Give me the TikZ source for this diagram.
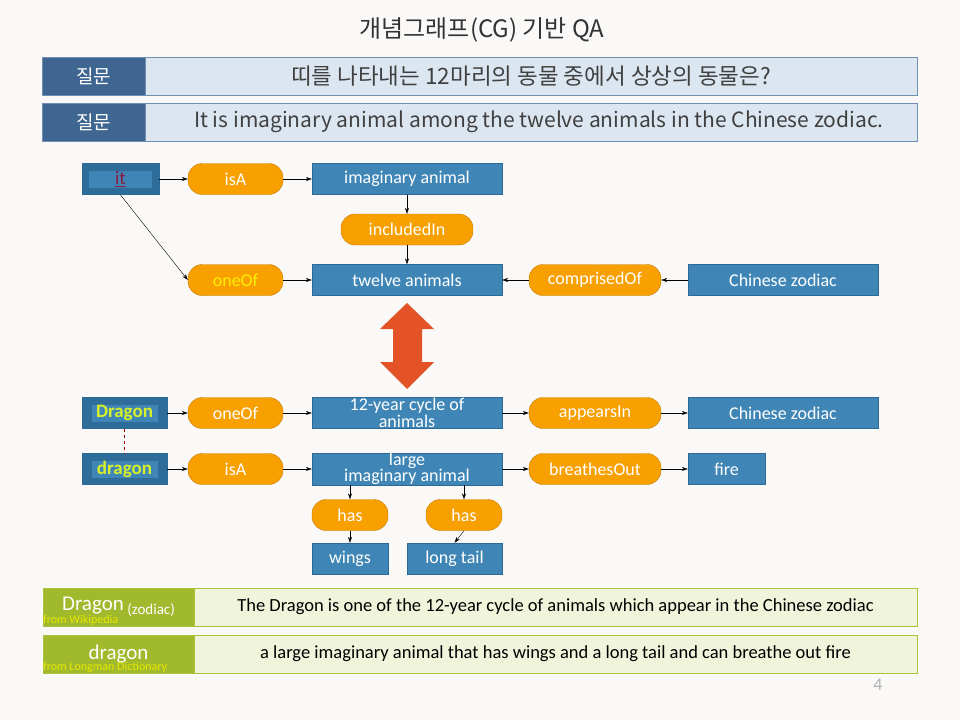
\documentclass[tikz,border=0pt]{standalone}
\usepackage{fontspec}
\setmainfont{Carlito}
\newfontfamily\krfont{Noto Sans CJK KR}
\usetikzlibrary{arrows.meta}
\definecolor{bg}{HTML}{FAF9F7}
\definecolor{cgblue}{HTML}{3F86B6}
\definecolor{cgline}{HTML}{2C6A96}
\definecolor{cgdark}{HTML}{2E6D99}
\definecolor{relfill}{HTML}{F8A000}
\definecolor{relline}{HTML}{C27C05}
\definecolor{qdark}{HTML}{3E6690}
\definecolor{qlight}{HTML}{DCE6F0}
\definecolor{qline}{HTML}{6F8FB3}
\definecolor{defdark}{HTML}{A1B92D}
\definecolor{deflight}{HTML}{F0F4DA}
\definecolor{defline}{HTML}{A8C33C}
\definecolor{bigarrow}{HTML}{E35327}
\definecolor{itred}{HTML}{8E1B3F}
\definecolor{dragontext}{HTML}{D8F02A}
\definecolor{srctext}{HTML}{E8E800}
\definecolor{oneofyellow}{HTML}{FFEE00}
\tikzstyle{concept} = [draw=cgline, fill=cgblue, rectangle, text=white,
                       minimum height=31pt, inner sep=0pt,
                       font=\fontsize{18}{16.5}\selectfont]
\tikzstyle{relation} = [draw=relline, fill=relfill, rectangle, rounded corners=14pt,
                        text=white, minimum height=31pt, inner sep=0pt,
                        font=\fontsize{18}{16}\selectfont]
\tikzstyle{entity} = [draw=cgline, fill=cgdark, rectangle, thick,
                      minimum height=31pt, inner sep=0pt]
\tikzstyle{entitytext} = [fill=cgblue, rectangle, inner sep=0pt,
                          minimum height=17pt, font=\fontsize{19}{19}\selectfont]
\tikzstyle{link} = [-{Stealth[length=6pt,width=4pt]}, thin]
\tikzstyle{qlabel} = [draw=qline, fill=qdark, rectangle, text=white, thick,
                      minimum width=103pt, minimum height=38pt, inner sep=0pt,
                      font=\krfont\fontsize{19}{19}\selectfont]
\tikzstyle{qbar} = [qlabel, fill=qlight, text=black!75, minimum width=772pt]
\tikzstyle{deflabel} = [draw=defline, fill=defdark, rectangle, text=white, thick,
                        minimum width=151pt, minimum height=38pt, inner sep=0pt,
                        font=\fontsize{21}{21}\selectfont]
\tikzstyle{defbar} = [deflabel, fill=deflight, text=black, minimum width=723pt,
                      font=\fontsize{18.5}{18}\selectfont]
\tikzstyle{source} = [text=srctext, inner sep=0pt, font=\fontsize{12}{12}\selectfont]
\begin{document}
\begin{tikzpicture}[x=1pt, y=-1pt]%
  \useasboundingbox (0,0) rectangle (960,720);
  \fill[bg] (0,0) rectangle (960,720);
  \node[font=\krfont\fontsize{24}{24}\selectfont, text=black!80] (title) at (482,30)
    {개념그래프(CG) 기반 QA};
  % questions
  \node[qbar, font=\krfont\fontsize{22.5}{22}\selectfont] (q1) at (531,76)
    {띠를 나타내는 12마리의 동물 중에서 상상의 동물은?};
  \node[qlabel] (q1l) at (93.5,76) {질문};
  \node[qbar, font=\krfont\fontsize{21}{21}\selectfont] (q2) at (531,122)
    {\hspace*{16pt}It is imaginary animal among the twelve animals in the Chinese zodiac.};
  \node[qlabel] (q2l) at (93.5,122) {질문};
  % graph of the question
  \node[entity, minimum width=77pt] (it) at (120.5,179) {};
  \node[entitytext, minimum width=63pt, text=itred] (itin) at (it) {\underline{it}};
  \node[relation, minimum width=95pt] (isa) at (235.5,179) {isA};
  \node[concept, minimum width=190pt] (imag) at (407,179) {imaginary animal};
  \node[relation, minimum width=132pt] (incl) at (407,229.5) {includedIn};
  \node[relation, minimum width=95pt, text=oneofyellow] (oneof) at (235.5,280) {oneOf};
  \node[concept, minimum width=190pt] (twelve) at (407,280) {twelve animals};
  \node[relation, minimum width=132pt] (compr) at (595,280) {comprisedOf};
  \node[concept, minimum width=190pt] (zodiac) at (783,280) {Chinese zodiac};
  \draw[link] (it) -- (isa);
  \draw[link] (isa) -- (imag);
  \draw[link] (imag) -- (incl);
  \draw[link] (incl) -- (twelve);
  \draw[link] (it.south) -- (oneof.west);
  \draw[link] (oneof) -- (twelve);
  \draw[link] (compr) -- (twelve);
  \draw[link] (zodiac) -- (compr);
  \fill[bigarrow] (407,303) -- (434,329) -- (422,329) -- (422,362) -- (434,362)
    -- (407,389) -- (380,362) -- (393,362) -- (393,329) -- (380,329) -- cycle;
  % graph of the definitions
  \node[entity, minimum width=85pt] (Drag) at (124.5,413) {};
  \node[entitytext, minimum width=66pt, text=dragontext] (Dragin) at (Drag) {\textbf{Dragon}};
  \node[relation, minimum width=95pt] (oneof2) at (235.5,413) {oneOf};
  \node[concept, minimum width=190pt, align=center] (cycle) at (407,413)
    {12-year cycle of\\animals};
  \node[relation, minimum width=132pt] (appears) at (595,413) {appearsIn};
  \node[concept, minimum width=190pt] (zodiac2) at (783,413) {Chinese zodiac};
  \node[entity, minimum width=85pt] (drag) at (124.5,469) {};
  \node[entitytext, minimum width=66pt, text=dragontext] (dragin) at (drag) {\textbf{dragon}};
  \node[relation, minimum width=95pt] (isa2) at (235.5,469) {isA};
  \node[concept, minimum width=190pt, align=center] (large) at (407,469)
    {large\\imaginary animal};
  \node[relation, minimum width=132pt] (breathes) at (595,469) {breathesOut};
  \node[concept, minimum width=77pt] (fire) at (726.5,469) {fire};
  \node[relation, minimum width=76pt] (has1) at (350,515) {has};
  \node[relation, minimum width=76pt] (has2) at (464,515) {has};
  \node[concept, minimum width=76pt] (wings) at (350,558.5) {wings};
  \node[concept, minimum width=95pt] (tail) at (454.5,558.5) {long tail};
  \draw[red!60!black, dashed] (Drag) -- (drag);
  \draw[link] (Drag) -- (oneof2);
  \draw[link] (oneof2) -- (cycle);
  \draw[link] (cycle) -- (appears);
  \draw[link] (appears) -- (zodiac2);
  \draw[link] (drag) -- (isa2);
  \draw[link] (isa2) -- (large);
  \draw[link] (large) -- (breathes);
  \draw[link] (breathes) -- (fire);
  \draw[link] (large.south -| has1) -- (has1);
  \draw[link] (has1) -- (wings);
  \draw[link] (large.south -| has2) -- (has2);
  \draw[link] (has2.south) -- (tail.north);
  % definitions
  \node[defbar] (def1) at (555.5,607)
    {The Dragon is one of the 12-year cycle of animals which appear in the Chinese zodiac};
  \node[deflabel] (def1l) at (118.5,607)
    {Dragon\,\raisebox{-4pt}{\fontsize{15}{15}\selectfont(zodiac)}};
  \node[source, anchor=base west] (wiki) at (43,623) {from Wikipedia};
  \node[defbar] (def2) at (555.5,654)
    {a large imaginary animal that has wings and a long tail and can breathe out fire};
  \node[deflabel] (def2l) at (118.5,654) {dragon};
  \node[source, anchor=base west] (longman) at (43,670) {from Longman Dictionary};
  \node[text=black!30, font=\fontsize{18}{18}\selectfont] (page) at (878,685) {4};
\end{tikzpicture}
\end{document}
